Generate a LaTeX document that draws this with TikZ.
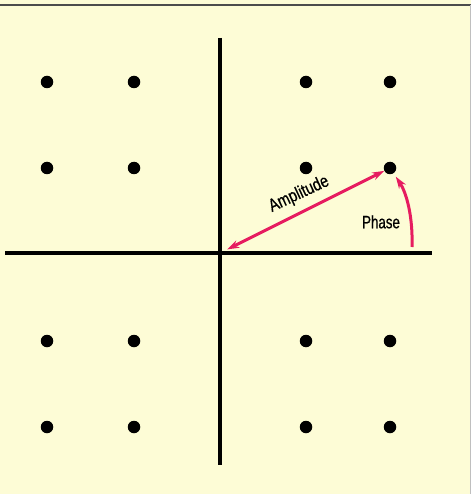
\documentclass[tikz,border=0pt]{standalone}
\usepackage{fontspec}
\newfontfamily\labfont[FakeStretch=0.74,FakeBold=0.6]{Liberation Sans}
\newfontfamily\ampfont[FakeStretch=0.8,FakeBold=0.6]{Liberation Sans}
\usetikzlibrary{arrows.meta}
\definecolor{paper}{RGB}{253,252,214}
\definecolor{vec}{RGB}{230,28,96}
\tikzset{
  dot/.style={circle,fill=black,inner sep=0pt,minimum size=12.5pt},
  axis/.style={line width=4.8pt,black},
  vecline/.style={line width=3pt,vec},
  tip/.style={-{Stealth[length=12pt,width=8pt]}},
  lab/.style={font=\labfont\fontsize{18pt}{20pt}\selectfont,inner sep=0pt,anchor=base},
  amplab/.style={font=\ampfont\fontsize{18pt}{20pt}\selectfont,inner sep=0pt,anchor=base}
}
\begin{document}
\begin{tikzpicture}[x=1pt,y=-1pt]
\fill[paper] (0,0) rectangle (471,494);
\useasboundingbox (0,0) rectangle (471,494);
\draw[line width=2pt,black!70] (0,5) -- (471,5);
\draw[line width=1pt,black!25] (470,5) -- (470,494);
% axes
\coordinate (ytop) at (220,38);
\coordinate (ybot) at (220,465);
\coordinate (xl) at (5,253);
\coordinate (xr) at (432,253);
\coordinate (O) at (220,253);
\draw[axis] (ytop) -- (ybot);
\draw[axis] (xl) -- (xr);
% dots
\foreach \i/\x in {1/47,2/134,3/306,4/390}{
  \foreach \j/\y in {1/82,2/168,3/341,4/427}{
    \node[dot] (d\i\j) at (\x,\y) {};
  }
}
% amplitude
\draw[vecline,{Stealth[length=12pt,width=8pt]}-{Stealth[length=12pt,width=8pt]},shorten <=8pt] (O) -- (d42);
\node[amplab,rotate=25] (amp) at (301,198.5) {Amplitude};
% phase
\coordinate (P) at (412,247);
\draw[vecline,tip,shorten >=4pt] (P) .. controls (413,215) and (406,192) .. (d42);
\node[lab] (ph) at (381,228.3) {Phase};
\end{tikzpicture}
\end{document}
